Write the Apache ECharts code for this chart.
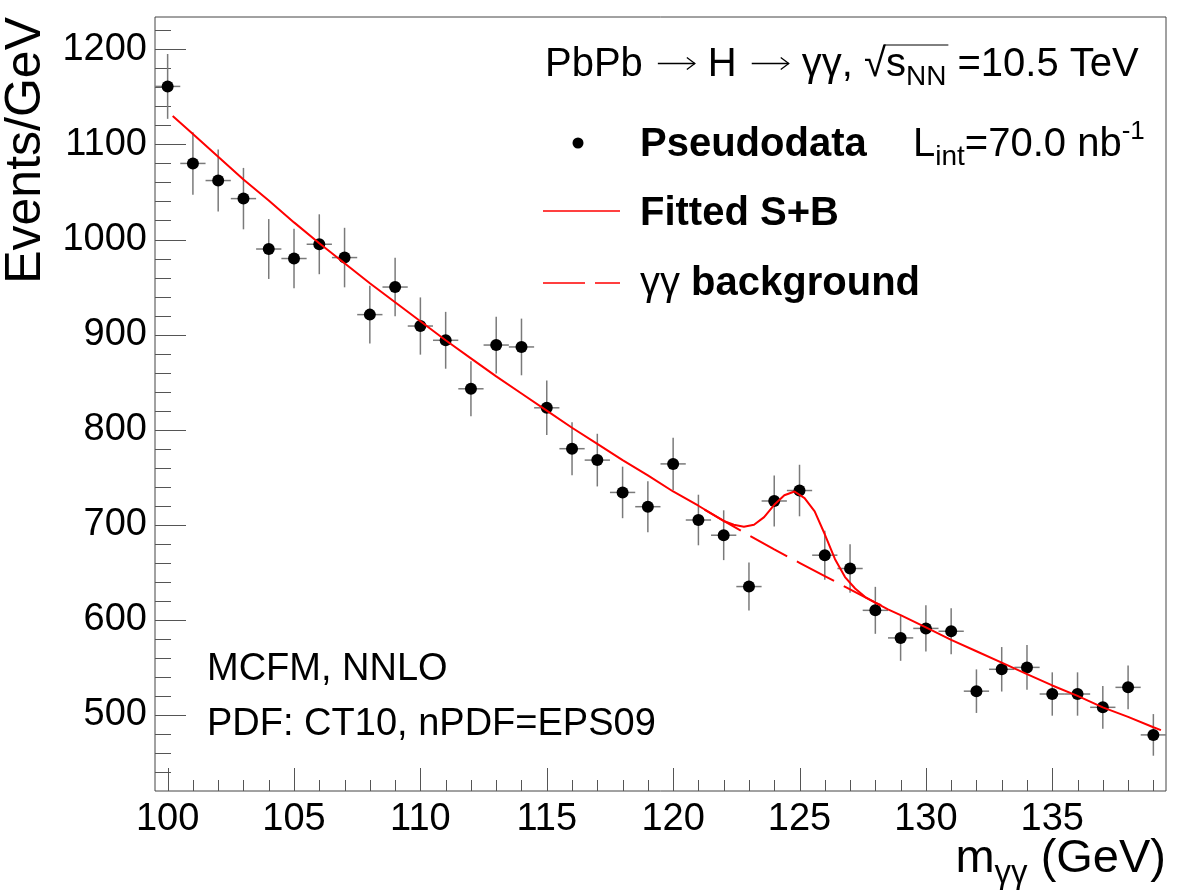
<!DOCTYPE html>
<html><head><meta charset="utf-8">
<script src="https://cdn.jsdelivr.net/npm/echarts@6/dist/echarts.min.js"></script>
<style>html,body{margin:0;padding:0;background:#fff}#c{width:1182px;height:896px}</style>
</head><body><div id="c"></div>
<script>
// ---- data ----
const massBins = [100,101,102,103,104,105,106,107,108,109,110,111,112,113,114,115,116,117,118,119,120,121,122,123,124,125,126,127,128,129,130,131,132,133,134,135,136,137,138,139];
const events = [1161,1080,1062,1043,990,980,995,981,921,950,909,894,843,889,887,823,780,768,734,719,764,705,689,635,725,736,668,654,610,581,591,588,525,548,550,522,522,508,529,479];
const eventErrors = [34.1,32.9,32.6,32.3,31.5,31.3,31.5,31.3,30.3,30.8,30.1,29.9,29.0,29.8,29.8,28.7,27.9,27.7,27.1,26.8,27.6,26.6,26.2,25.2,26.9,27.1,25.8,25.6,24.7,24.1,24.3,24.2,22.9,23.4,23.5,22.8,22.8,22.5,23.0,21.9];
const fitMass = [100.2,101,102,103,104,105,106,107,108,109,110,111,112,113,114,115,116,117,118,119,120,121,122,122.4,122.8,123.2,123.6,124.0,124.4,124.8,125.2,125.6,126.0,126.4,126.8,127.2,127.6,128,128.5,129,130,131,132,133,134,135,136,137,138,139,139.3];
const fitValues = [1130,1111,1087,1063,1041,1018,996,975,954,934,914,894,875,856,838,820,802,785,768,752,735,720,704,700,698,700,708,721,731,735,728,714,690,664,645,633,624,618,611,605,592,579,567,555,543,531,520,508,498,487,484];
const bkgMass = [121.24,122,123,124,125,126,127,128,128.6];
const bkgValues = [716,704,689,674,660,646,632,618,611];
const xMajorTicks = [100,105,110,115,120,125,130,135];
const yMajorTicks = [500,600,700,800,900,1000,1100,1200];
const X_MIN = 99.5, X_MAX = 139.5, Y_MIN = 420, Y_MAX = 1234;

const xMinorTicks = []; for (let v = 100; v <= 139; v++) if (v % 5 !== 0) xMinorTicks.push(v);
const yMinorTicks = []; for (let v = 440; v <= 1220; v += 20) if (v % 100 !== 0) yMinorTicks.push(v);

const FONT = '"Liberation Sans", Arial, Helvetica, sans-serif';
const TICK_COLOR = '#555';
const chart = echarts.init(document.getElementById('c'), null, {renderer: 'canvas'});

function tickSeries(vals, axis, len) {
  return {
    type: 'custom', silent: true, z: 1, clip: false,
    data: vals.map(v => axis === 'x' ? [v, Y_MIN] : [X_MIN, v]),
    renderItem: function (params, api) {
      const p = api.coord([api.value(0), api.value(1)]);
      let shape;
      if (axis === 'x') { const x = Math.round(p[0]) + 0.5; shape = {x1: x, y1: p[1], x2: x, y2: p[1] - len}; }
      else { const y = Math.round(p[1]) + 0.5; shape = {x1: p[0], y1: y, x2: p[0] + len, y2: y}; }
      return {type: 'line', shape: shape, style: {stroke: TICK_COLOR, lineWidth: 1}};
    }
  };
}

const measureCtx = document.createElement('canvas').getContext('2d');
function fontStr(s, w) { return (w || 'normal') + ' ' + s + 'px ' + FONT; }
function textRun(x0, baseline, parts, anchor) {
  const widths = parts.map(p => {
    if (p.arrow) return p.width;
    measureCtx.font = fontStr(p.s, p.w); return measureCtx.measureText(p.t).width;
  });
  const total = widths.reduce((a, b) => a + b, 0);
  let x = anchor === 'right' ? x0 - total : x0;
  const els = [];
  parts.forEach((p, i) => {
    if (p.arrow) {
      const ay = baseline - 13.5, xa = x + 15, xb = x + p.width - 13;
      els.push({type: 'polyline', z: 10, shape: {points: [[xa, ay], [xb, ay]]}, style: {stroke: '#000', lineWidth: 1.3, fill: null}});
      els.push({type: 'polyline', z: 10, shape: {points: [[xb - 8, ay - 6], [xb, ay], [xb - 8, ay + 6]]}, style: {stroke: '#000', lineWidth: 1.3, fill: null}});
    } else {
      els.push({type: 'text', x: x, y: baseline + (p.dy || 0) - 0.31 * p.s, z: 10,
        style: {text: p.t, font: fontStr(p.s, p.w), fill: '#000', align: 'left', verticalAlign: 'middle'}});
    }
    p._x = x; p._w = widths[i];
    x += widths[i];
  });
  return els;
}

const graphics = [];
// Header line
const hdr = [{t: 'PbPb', s: 40}, {arrow: true, width: 65}, {t: 'H', s: 40}, {arrow: true, width: 65},
             {t: '\u03b3\u03b3, ', s: 40}, {t: '\u221a', s: 40}, {t: 's', s: 40}, {t: 'NN', s: 28, dy: 9}, {t: ' =10.5 TeV', s: 40}];
graphics.push(...textRun(545, 77, hdr));
graphics.push({type: 'line', z: 10, shape: {x1: hdr[5]._x + hdr[5]._w - 2, y1: 45, x2: hdr[7]._x + hdr[7]._w + 2, y2: 45}, style: {stroke: '#000', lineWidth: 1}});
// Legend rows
graphics.push(...textRun(640, 157, [{t: 'Pseudodata', s: 40, w: 'bold'}]));
graphics.push(...textRun(913, 157, [{t: 'L', s: 40}, {t: 'int', s: 28, dy: 9}, {t: '=70.0 nb', s: 40}, {t: '-1', s: 26, dy: -17}]));
graphics.push(...textRun(640, 226, [{t: 'Fitted S+B', s: 40, w: 'bold'}]));
graphics.push(...textRun(640, 296, [{t: '\u03b3\u03b3', s: 40}, {t: ' background', s: 40, w: 'bold'}]));
graphics.push({type: 'circle', z: 10, shape: {cx: 578, cy: 143, r: 5.5}, style: {fill: '#000'}});
graphics.push({type: 'line', z: 10, shape: {x1: 543, y1: 211, x2: 620, y2: 211}, style: {stroke: '#ff0000', lineWidth: 1.5}});
graphics.push({type: 'line', z: 10, shape: {x1: 543, y1: 283, x2: 620, y2: 283}, style: {stroke: '#ff0000', lineWidth: 1.5, lineDash: [42, 10]}});
// Bottom-left notes
graphics.push(...textRun(207, 681, [{t: 'MCFM, NNLO', s: 38}]));
graphics.push(...textRun(207, 736, [{t: 'PDF: CT10, nPDF=EPS09', s: 38}]));
// Axis titles
graphics.push(...textRun(1166, 874, [{t: 'm', s: 47}, {t: '\u03b3\u03b3', s: 33, dy: 10}, {t: ' (GeV)', s: 47}], 'right'));
graphics.push({type: 'text', x: 26, y: 17, rotation: Math.PI / 2, z: 10,
  style: {text: 'Events/GeV', font: fontStr(50), fill: '#000', align: 'right', verticalAlign: 'middle'}});

const option = {
  animation: false,
  backgroundColor: '#fff',
  grid: {left: 155, right: 16, top: 17, bottom: 105, show: true, borderColor: '#444', borderWidth: 1,
         containLabel: false, outerBoundsMode: 'none'},
  xAxis: {type: 'value', min: X_MIN, max: X_MAX, interval: 0.5,
    axisLine: {show: false}, axisTick: {show: false}, splitLine: {show: false},
    axisLabel: {formatter: v => (Math.abs(v % 5) < 1e-9 ? String(v) : ''), fontSize: 38, color: '#000', fontFamily: FONT, margin: 10, hideOverlap: false}},
  yAxis: {type: 'value', min: Y_MIN, max: Y_MAX, interval: 20,
    axisLine: {show: false}, axisTick: {show: false}, splitLine: {show: false},
    axisLabel: {formatter: v => (v % 100 === 0 ? String(v) : ''), fontSize: 38, color: '#000', fontFamily: FONT, margin: 8, hideOverlap: false}},
  graphic: graphics,
  series: [
    tickSeries(xMajorTicks, 'x', 23),
    tickSeries(xMinorTicks, 'x', 11),
    tickSeries(yMajorTicks, 'y', 31),
    tickSeries(yMinorTicks, 'y', 16),
    {
      type: 'custom', z: 2, silent: true,
      dimensions: ['x', 'y', 'err'], encode: {x: 0, y: 1},
      data: massBins.map((m, i) => [m, events[i], eventErrors[i]]),
      renderItem: function (params, api) {
        const x = api.value(0), y = api.value(1), e = api.value(2);
        const t = api.coord([x, y + e]), b = api.coord([x, y - e]);
        const l = api.coord([x - 0.5, y]), r = api.coord([x + 0.5, y]);
        const st = {stroke: '#7a7a7a', lineWidth: 1.5};
        return {type: 'group', children: [
          {type: 'line', shape: {x1: t[0], y1: t[1], x2: b[0], y2: b[1]}, style: st},
          {type: 'line', shape: {x1: l[0], y1: l[1], x2: r[0], y2: r[1]}, style: st}
        ]};
      }
    },
    {type: 'scatter', z: 3, symbol: 'circle', symbolSize: 12, itemStyle: {color: '#000', opacity: 1},
     data: massBins.map((m, i) => [m, events[i]])},
    {type: 'line', z: 4, showSymbol: false, symbol: 'none', smooth: false,
     lineStyle: {color: '#ff0000', width: 2, type: [42, 11]},
     data: bkgMass.map((m, i) => [m, bkgValues[i]])},
    {type: 'line', z: 5, showSymbol: false, symbol: 'none', smooth: false,
     lineStyle: {color: '#ff0000', width: 2},
     data: fitMass.map((m, i) => [m, fitValues[i]])}
  ]
};
chart.setOption(option);
</script></body></html>
